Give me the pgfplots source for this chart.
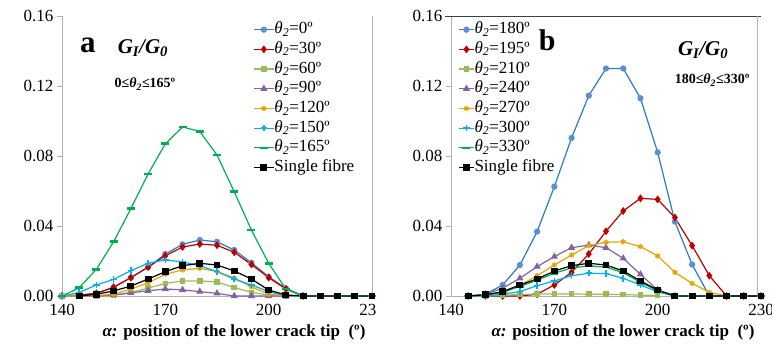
\documentclass[border=0pt]{standalone}
\usepackage{fontspec}
\setmainfont{Liberation Serif}
\usepackage{pgfplots}
\pgfplotsset{compat=1.18}
\definecolor{cblue}{HTML}{2A7BC8}
\definecolor{cbluem}{HTML}{5B8FD0}
\definecolor{cred}{HTML}{C00000}
\definecolor{clgreen}{HTML}{9BBB59}
\definecolor{cpurple}{HTML}{8064A2}
\definecolor{cgold}{HTML}{E8A400}
\definecolor{ccyan}{HTML}{00B0F0}
\definecolor{cgreen}{HTML}{00B050}
\newcommand\fs[1]{\fontsize{#1bp}{#1bp}\selectfont}
\newcommand\thet{\textit{θ}\textsubscript{\textit{2}}}
\pgfplotsset{
  common/.style={
    scale only axis, width=310bp, height=280bp,
    xmin=140, xmax=230, ymin=0, ymax=0.16,
    xtick={140,170,200,230}, ytick={0,0.04,0.08,0.12,0.16},
    /pgf/number format/assume math mode=true,
    yticklabel style={/pgf/number format/fixed,/pgf/number format/fixed zerofill,/pgf/number format/precision=2},
    tick label style={font=\fs{17}},
    axis x line*=bottom, axis y line*=left,
    axis line style={-, gray!60},
    xtick style={draw=none}, ytick style={gray!60},
    tick align=outside, major tick length=5bp,
    clip=false,
    xlabel={\textbf{\textit{α:} position of the lower crack tip\ \ (º)}},
    xlabel style={font=\fs{17}, at={(axis description cs:0.5,0)}, anchor=north, yshift=-25bp, xshift=17bp},
    every axis plot/.append style={line width=1.2bp},
    legend cell align=left,
    legend style={draw=none, fill=none, font=\fs{17}, row sep=3.7bp,
      nodes={inner sep=0pt, text height=12bp, text depth=4bp},
      /tikz/every even column/.append style={column sep=3bp}},
  },
  s0/.style={color=cblue, mark=*, mark size=2.5bp, mark options={fill=cbluem, draw=cbluem}},
  s1/.style={color=cred, mark=diamond*, mark size=3bp},
  s2/.style={color=clgreen, mark=square*, mark size=2.2bp},
  s3/.style={color=cpurple, mark=triangle*, mark size=3bp},
  s4/.style={color=cgold, mark=asterisk, mark size=2.6bp, mark options={line width=1.5bp}},
  s5/.style={color=ccyan, mark=+, mark size=3.2bp, mark options={line width=1.5bp}},
  s6/.style={color=cgreen, mark=-, mark size=4bp, mark options={line width=2.6bp}},
  s7/.style={color=black, mark=square*, mark size=2.8bp},
}
\begin{document}
\begin{tikzpicture}
\begin{axis}[common, at={(62bp,53bp)}, anchor=south west,
  xticklabels={140,170,200,23\phantom{0}},
  legend style={at={(axis cs:194.6,0.158)}, anchor=north west},
  legend image code/.code={\draw[mark repeat=2,mark phase=2] plot coordinates {(0bp,0bp) (10bp,0bp) (20bp,0bp)};}]
\addplot[s0] coordinates {(140,0) (145,0.0005) (150,0.0015) (155,0.005) (160,0.0105) (165,0.0165) (170,0.024) (175,0.0295) (180,0.032) (185,0.031) (190,0.0263) (195,0.019) (200,0.011) (205,0.0044) (210,0)};
\addlegendentry{\thet=0º}
\addplot[s1] coordinates {(140,0) (145,0.0005) (150,0.0015) (155,0.005) (160,0.0105) (165,0.0165) (170,0.023) (175,0.028) (180,0.0297) (185,0.029) (190,0.025) (195,0.018) (200,0.0105) (205,0.004) (210,0)};
\addlegendentry{\thet=30º}
\addplot[s2] coordinates {(140,0) (145,0) (150,0) (155,0.0005) (160,0.002) (165,0.0045) (170,0.0072) (175,0.0086) (180,0.0086) (185,0.008) (190,0.0048) (195,0.0021) (200,0.0005) (205,0) (210,0)};
\addlegendentry{\thet=60º}
\addplot[s3] coordinates {(140,0) (145,0) (150,0) (155,0.0005) (160,0.0018) (165,0.003) (170,0.004) (175,0.0035) (180,0.0025) (185,0.0015) (190,0) (195,0) (200,0) (205,0) (210,0)};
\addlegendentry{\thet=90º}
\addplot[s4] coordinates {(140,0) (145,0) (150,0.0003) (155,0.001) (160,0.004) (165,0.0075) (170,0.0124) (175,0.0149) (180,0.0158) (185,0.014) (190,0.0103) (195,0.0052) (200,0.001) (205,0) (210,0)};
\addlegendentry{\thet=120º}
\addplot[s5] coordinates {(140,0) (145,0.002) (150,0.0063) (155,0.0095) (160,0.0145) (165,0.0187) (170,0.0206) (175,0.0195) (180,0.0173) (185,0.0139) (190,0.0097) (195,0.0063) (200,0.0025) (205,0) (210,0)};
\addlegendentry{\thet=150º}
\addplot[s6] coordinates {(140,0) (145,0.0047) (150,0.0153) (155,0.031) (160,0.050) (165,0.0697) (170,0.087) (175,0.0966) (180,0.094) (185,0.0806) (190,0.0596) (195,0.0377) (200,0.0187) (205,0.004) (210,0) (215,0) (220,0) (225,0) (230,0)};
\addlegendentry{\thet=165º}
\addplot[s7] coordinates {(145,0) (150,0.001) (155,0.0029) (160,0.0057) (165,0.0097) (170,0.0139) (175,0.0173) (180,0.0187) (185,0.0177) (190,0.0143) (195,0.0097) (200,0.0034) (205,0.0006) (210,0) (215,0) (220,0) (225,0) (230,0)};
\addlegendentry{Single fibre}
\draw[gray!60] (rel axis cs:1,0) -- (rel axis cs:1,1);
\node[font=\fs{31}\bfseries] at (axis cs:147.5,0.1434) {a};
\node[font=\fs{21}\bfseries\itshape] at (axis cs:163.5,0.1417) {G\textsubscript{I}/G\textsubscript{0}};
\node[font=\fs{14}\bfseries] at (axis cs:164.1,0.1211) {0≤\thet≤165º};
\end{axis}
\begin{axis}[common, at={(451bp,53bp)}, anchor=south west,
  xticklabels={140,170,200,230},
  legend style={at={(axis cs:141.2,0.158)}, anchor=north west},
  legend image code/.code={\draw[mark repeat=2,mark phase=2] plot coordinates {(0bp,0bp) (7.5bp,0bp) (15bp,0bp)};}]
\addplot[s0] coordinates {(145,0) (150,0.001) (155,0.0063) (160,0.0177) (165,0.0368) (170,0.0625) (175,0.0903) (180,0.1145) (185,0.130) (190,0.130) (195,0.113) (200,0.0821) (205,0.0425) (210,0.018) (215,0) (220,0) (225,0) (230,0)};
\addlegendentry{\thet=180º}
\addplot[s1] coordinates {(145,0) (150,0) (155,0) (160,0) (165,0.001) (170,0.0063) (175,0.0135) (180,0.024) (185,0.037) (190,0.0486) (195,0.0558) (200,0.0552) (205,0.0448) (210,0.0288) (215,0.0116) (220,0) (225,0) (230,0)};
\addlegendentry{\thet=195º}
\addplot[s2] coordinates {(145,0) (150,0) (155,0.0005) (160,0.0008) (165,0.0012) (170,0.0012) (175,0.0012) (180,0.001) (185,0.001) (190,0.0008) (195,0.0005) (200,0.0003)};
\addlegendentry{\thet=210º}
\addplot[s3] coordinates {(145,0) (150,0.001) (155,0.0045) (160,0.0101) (165,0.0168) (170,0.0225) (175,0.0276) (180,0.0291) (185,0.0276) (190,0.0215) (195,0.0124) (200,0.0034) (205,0)};
\addlegendentry{\thet=240º}
\addplot[s4] coordinates {(145,0) (150,0.0005) (155,0.002) (160,0.006) (165,0.0116) (170,0.0177) (175,0.0234) (180,0.0288) (185,0.0307) (190,0.031) (195,0.0282) (200,0.0229) (205,0.0135) (210,0.0072) (215,0.0021) (220,0)};
\addlegendentry{\thet=270º}
\addplot[s5] coordinates {(145,0) (150,0) (155,0.001) (160,0.0025) (165,0.0059) (170,0.0086) (175,0.0116) (180,0.013) (185,0.0128) (190,0.0101) (195,0.0063) (200,0.0023) (205,0)};
\addlegendentry{\thet=300º}
\addplot[s6] coordinates {(145,0) (150,0.0005) (155,0.002) (160,0.0055) (165,0.009) (170,0.013) (175,0.016) (180,0.0172) (185,0.0165) (190,0.0133) (195,0.0078) (200,0.003) (205,0) (210,0) (215,0) (220,0) (225,0) (230,0)};
\addlegendentry{\thet=330º}
\addplot[s7] coordinates {(145,0) (150,0.0007) (155,0.0025) (160,0.0063) (165,0.0097) (170,0.0143) (175,0.0173) (180,0.0187) (185,0.0177) (190,0.0143) (195,0.0086) (200,0.0034) (205,0) (210,0) (215,0) (220,0) (225,0) (230,0)};
\addlegendentry{Single fibre}
\draw[black!75] (axis cs:138.2,0.16) -- (axis cs:230,0.16);
\draw[gray!60] (axis cs:229,0) -- (axis cs:229,0.16);
\node[font=\fs{30}\bfseries] at (axis cs:167.9,0.1463) {b};
\node[font=\fs{21}\bfseries\itshape] at (axis cs:213.2,0.1406) {G\textsubscript{I}/G\textsubscript{0}};
\node[font=\fs{14}\bfseries] at (axis cs:215.8,0.1234) {180≤\thet≤330º};
\end{axis}
\pgfresetboundingbox
\path[use as bounding box] (0,0) rectangle (772bp,349bp);
\end{tikzpicture}
\end{document}
